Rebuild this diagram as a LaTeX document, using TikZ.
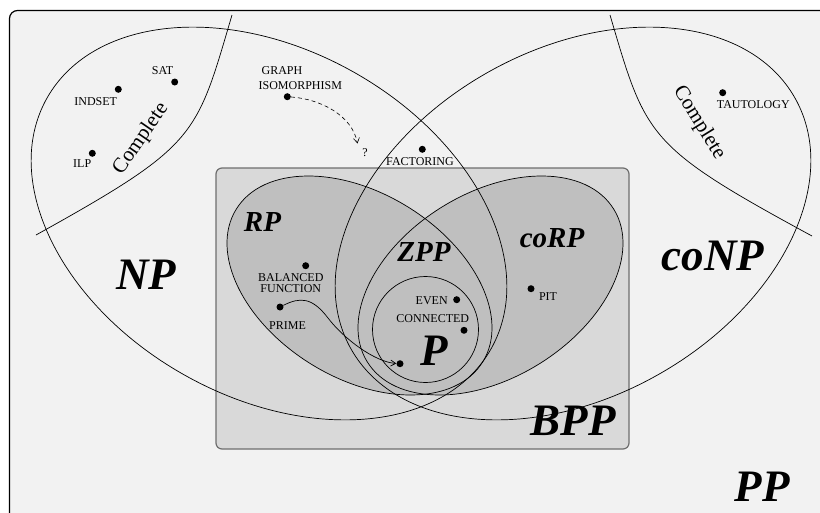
\documentclass[tikz,border=0pt]{standalone}
\usepackage{fontspec}
\setmainfont{Liberation Serif}
\usetikzlibrary{arrows.meta}
\definecolor{bgout}{HTML}{F2F2F2}
\definecolor{bgin}{HTML}{D9D9D9}
\definecolor{rpfill}{HTML}{BFBFBF}
\definecolor{rectedge}{HTML}{6E6E6E}
\begin{document}
\begin{tikzpicture}[x=1pt,y=-1pt,
  curve/.style={draw=black,line width=0.7pt},
  dotnode/.style={circle,fill=black,inner sep=0pt,minimum size=7pt},
  small/.style={inner sep=0pt,font=\fontsize{12}{14}\selectfont,anchor=base},
  big/.style={inner sep=0pt,font=\fontsize{45}{50}\selectfont\bfseries\itshape,anchor=base},
  mid/.style={inner sep=0pt,font=\fontsize{29}{32}\selectfont\bfseries\itshape,anchor=base},
  cmpl/.style={inner sep=0pt,font=\fontsize{21}{24}\selectfont}]
\useasboundingbox (0,0) rectangle (820,512);
\clip (0,0) rectangle (820,512);
% PP box
\draw[fill=bgout,draw=black,line width=1.2pt,rounded corners=8pt] (9.5,10.5) rectangle (850,550);
% BPP box
\draw[fill=bgin,draw=rectedge,line width=1.2pt,rounded corners=6pt] (216,168) rectangle (629,449);
% RP and coRP fills
\fill[rpfill,rotate around={-31.8:(359.5,285.5)}] (359.5,285.5) ellipse [x radius=145pt, y radius=92.3pt];
\fill[rpfill,rotate around={31.8:(490.5,285.5)}] (490.5,285.5) ellipse [x radius=145pt, y radius=92.3pt];
% outlines
\draw[curve,rotate around={-31.8:(359.5,285.5)}] (359.5,285.5) ellipse [x radius=145pt, y radius=92.3pt];
\draw[curve,rotate around={31.8:(490.5,285.5)}] (490.5,285.5) ellipse [x radius=145pt, y radius=92.3pt];
\draw[curve,rotate around={-29.5:(269,223.5)}] (269,223.5) ellipse [x radius=255pt, y radius=173.5pt];
\draw[curve,rotate around={29.5:(573,223.5)}] (573,223.5) ellipse [x radius=255pt, y radius=173.5pt];
\draw[curve] (425.5,329.5) circle [radius=53pt];
% Complete boundaries
\draw[curve] (232,15) .. controls (196,137) and (198,145) .. (36,235);
\draw[curve] (610,15) .. controls (646,137) and (646,146) .. (812,236);
\node[cmpl,rotate=55.4] (cnp) at (141,139) {Complete};
\node[cmpl,rotate=-58.3] (cconp) at (699,123) {Complete};
% class labels
\node[big] (np) at (146,289.3) {NP};
\node[big] (conp) at (713,270) {coNP};
\node[big] (bpp) at (573,435) {BPP};
\node[big] (pp) at (762,501.7) {PP};
\node[big] (p) at (434,365) {P};
\node[mid] (rp) at (262.5,231.3) {RP};
\node[mid] (corp) at (552,247) {coRP};
\node[mid] (zpp) at (424,261.3) {ZPP};
% problems
\node[dotnode] (sat) at (174.7,82) {};
\node[small] (satl) at (162.5,74) {SAT};
\node[dotnode] (indset) at (118.3,89.3) {};
\node[small] (indsetl) at (95.7,105) {INDSET};
\node[dotnode] (ilp) at (92.3,153.3) {};
\node[small] (ilpl) at (82.2,167.7) {ILP};
\node[dotnode] (gi) at (287.3,96.7) {};
\node[small] (gil1) at (282,74) {GRAPH};
\node[small] (gil2) at (300.3,89.3) {ISOMORPHISM};
\node[small] (qm) at (365,156.7) {?};
\coordinate (qtip) at (357.5,143.5);
\draw[dashed,line width=0.6pt,dash pattern=on 4pt off 3pt,-{Straight Barb[length=5pt,width=6pt]}] (gi) .. controls (320,99) and (352,115) .. (qtip);
\node[dotnode] (fact) at (422.3,149.3) {};
\node[small] (factl) at (420,165) {FACTORING};
\node[dotnode] (taut) at (722.7,92.7) {};
\node[small] (tautl) at (753.3,108.3) {TAUTOLOGY};
\node[dotnode] (bal) at (305.7,265.7) {};
\node[small] (ball1) at (290.8,281.3) {BALANCED};
\node[small] (ball2) at (290.8,292) {FUNCTION};
\node[dotnode] (prime) at (280,307) {};
\node[small] (primel) at (287.5,329.7) {PRIME};
\node[dotnode] (pdot) at (400,363.7) {};
\node[dotnode] (even) at (456.7,299.7) {};
\node[small] (evenl) at (431.7,304) {EVEN};
\node[dotnode] (conn) at (464,330.3) {};
\node[small] (connl) at (432.8,322.3) {CONNECTED};
\node[dotnode] (pit) at (531,288.7) {};
\node[small] (pitl) at (548,300.3) {PIT};
\coordinate (via) at (328,318);
\draw[line width=0.7pt,-{Straight Barb[length=5pt,width=6pt]}] (prime) .. controls (300,297) and (312,297) .. (via) .. controls (344,339) and (375,362) .. (pdot);
\end{tikzpicture}
\end{document}
